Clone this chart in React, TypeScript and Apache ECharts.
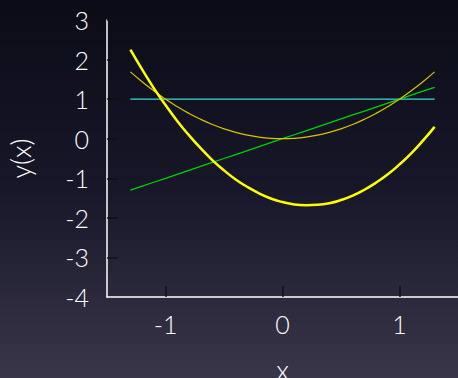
import React, { useEffect, useRef } from "react";
import * as echarts from "echarts";

const xValues = [-1.3, -1.2, -1.1, -1.0, -0.9, -0.8, -0.7, -0.6, -0.5, -0.4, -0.3, -0.2, -0.1, 0, 0.1, 0.2, 0.3, 0.4, 0.5, 0.6, 0.7, 0.8, 0.9, 1.0, 1.1, 1.2, 1.3];
const constSeries = [1, 1, 1, 1, 1, 1, 1, 1, 1, 1, 1, 1, 1, 1, 1, 1, 1, 1, 1, 1, 1, 1, 1, 1, 1, 1, 1];
const linearSeries = [-1.3, -1.2, -1.1, -1.0, -0.9, -0.8, -0.7, -0.6, -0.5, -0.4, -0.3, -0.2, -0.1, 0, 0.1, 0.2, 0.3, 0.4, 0.5, 0.6, 0.7, 0.8, 0.9, 1.0, 1.1, 1.2, 1.3];
const squareSeries = [1.69, 1.44, 1.21, 1.0, 0.81, 0.64, 0.49, 0.36, 0.25, 0.16, 0.09, 0.04, 0.01, 0, 0.01, 0.04, 0.09, 0.16, 0.25, 0.36, 0.49, 0.64, 0.81, 1.0, 1.21, 1.44, 1.69];
const fitSeries = [2.25, 1.75, 1.28, 0.85, 0.45, 0.09, -0.24, -0.54, -0.8, -1.03, -1.22, -1.38, -1.51, -1.6, -1.66, -1.68, -1.67, -1.63, -1.55, -1.44, -1.29, -1.11, -0.9, -0.65, -0.37, -0.05, 0.3];
const xTicks = [-1, 0, 1];
const yTicks = [-3, -2, -1, 0, 1, 2, 3];

const FONT = "Lato, 'DejaVu Sans', sans-serif";

function pairs(ys: number[]) {
  return xValues.map((x, i) => [x, ys[i]]);
}

export default function App() {
  const ref = useRef<HTMLDivElement>(null);
  useEffect(() => {
    if (!ref.current) return;
    const chart = echarts.init(ref.current, undefined, { renderer: "svg" });
    chart.setOption({
      animation: false,
      backgroundColor: new echarts.graphic.LinearGradient(0, 0, 0, 1, [
        { offset: 0, color: "#0b0c17" },
        { offset: 0.5, color: "#171729" },
        { offset: 1, color: "#3a3649" },
      ]),
      grid: { left: 107, right: 0, top: 20, bottom: 81, containLabel: false, outerBoundsMode: "none" },
      xAxis: {
        type: "value",
        min: -1.5,
        max: 1.5,
        name: "x",
        nameLocation: "middle",
        nameGap: 59,
        nameTextStyle: { color: "#ffffff", fontSize: 27, fontFamily: FONT, fontWeight: 300 },
        axisLine: { show: true, onZero: false, lineStyle: { color: "#ffffff", width: 1.5 } },
        axisTick: { show: true, inside: true, length: 11, customValues: xTicks, lineStyle: { color: "#111111", width: 1.5 } },
        axisLabel: { customValues: xTicks, color: "#ffffff", fontSize: 25, fontFamily: FONT, fontWeight: 300, margin: 14 },
        splitLine: { show: false },
      },
      yAxis: {
        type: "value",
        min: -4,
        max: 3,
        interval: 1,
        name: "y(x)",
        nameLocation: "middle",
        nameGap: 73,
        nameRotate: 90,
        nameTextStyle: { color: "#ffffff", fontSize: 27, fontFamily: FONT, fontWeight: 300 },
        axisLine: { show: true, onZero: false, lineStyle: { color: "#ffffff", width: 1.5 } },
        axisTick: { show: true, inside: true, length: 11, customValues: yTicks, lineStyle: { color: "#111111", width: 1.5 } },
        axisLabel: { color: "#ffffff", fontSize: 25, fontFamily: FONT, fontWeight: 300, margin: 18 },
        splitLine: { show: false },
      },
      series: [
        { type: "line", data: pairs(constSeries), showSymbol: false, lineStyle: { color: "#3fd6d6", width: 1.2 } },
        { type: "line", data: pairs(linearSeries), showSymbol: false, lineStyle: { color: "#00d400", width: 1.3 } },
        { type: "line", data: pairs(squareSeries), smooth: true, showSymbol: false, lineStyle: { color: "#d8c400", width: 1.2 } },
        { type: "line", data: pairs(fitSeries), smooth: true, showSymbol: false, lineStyle: { color: "#ffff00", width: 2.5 } },
      ],
    });
    return () => chart.dispose();
  }, []);
  return <div ref={ref} style={{ position: "fixed", left: 0, top: 0, width: 458, height: 378 }} />;
}
